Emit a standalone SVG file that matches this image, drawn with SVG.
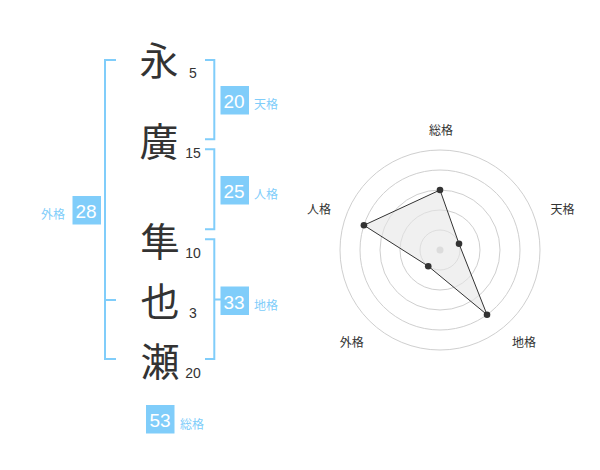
<svg xmlns="http://www.w3.org/2000/svg" width="600" height="470" viewBox="0 0 600 470">
<style>
.ch{font-family:"Noto Sans CJK JP","Noto Sans CJK SC",sans-serif;font-size:39px;fill:#333;text-anchor:middle}
.num{font-family:"Liberation Sans",Arial,sans-serif;font-size:14px;fill:#333;text-anchor:middle}
.box{fill:#80cdfa}
.bnum{font-family:"Liberation Sans",Arial,sans-serif;font-size:19px;fill:#fff;text-anchor:middle}
.lbl{font-family:"Noto Sans CJK JP","Noto Sans CJK SC",sans-serif;font-size:12px;fill:#80cdfa}
.br{fill:none;stroke:#80cdfa;stroke-width:2}
.grid{fill:none;stroke:#cfcfcf;stroke-width:1}
.axl{font-family:"Noto Sans CJK JP","Noto Sans CJK SC",sans-serif;font-size:12px;fill:#333;text-anchor:middle}
.pt{fill:#333}
</style>
<rect width="600" height="470" fill="#fff"/>
<g id="connectors">
<path class="br" d="M116,60 H105 V359 H116 M105,300 H116"/>
<path class="br" d="M205,60 H214.3 V139.3 H205"/>
<path class="br" d="M205,149.3 H214.3 V229.3 H205"/>
<path class="br" d="M205,239.3 H214.3 V359 H205 M214.3,299.5 H222"/>
</g>
<g id="char1"><text class="ch" x="159" y="75">永</text><text class="num" x="193" y="77.5">5</text></g>
<g id="char2"><text class="ch" x="159" y="155.5">廣</text><text class="num" x="193" y="158">15</text></g>
<g id="char3"><text class="ch" x="160" y="255.5">隼</text><text class="num" x="193" y="258">10</text></g>
<g id="char4"><text class="ch" x="160" y="315.5">也</text><text class="num" x="193" y="318">3</text></g>
<g id="char5"><text class="ch" x="160" y="375.5">瀬</text><text class="num" x="193" y="378">20</text></g>
<g id="tenkaku"><rect class="box" x="220.5" y="86" width="28.5" height="28.5"/><text class="bnum" x="234" y="108">20</text><text class="lbl" x="254" y="109">天格</text></g>
<g id="jinkaku"><rect class="box" x="220.5" y="176" width="28.5" height="28.5"/><text class="bnum" x="234" y="198">25</text><text class="lbl" x="254" y="199">人格</text></g>
<g id="chikaku"><rect class="box" x="220.5" y="286.5" width="28.5" height="28.5"/><text class="bnum" x="234" y="308.5">33</text><text class="lbl" x="254" y="309.5">地格</text></g>
<g id="gaikaku"><rect class="box" x="72.5" y="196" width="28.5" height="28.5"/><text class="bnum" x="86" y="218">28</text><text class="lbl" x="41" y="219">外格</text></g>
<g id="soukaku"><rect class="box" x="146" y="405" width="28.5" height="28.5"/><text class="bnum" x="160" y="427">53</text><text class="lbl" x="180" y="428.5">総格</text></g>
<g id="radar">
<circle class="grid" cx="440" cy="250" r="20"/>
<circle class="grid" cx="440" cy="250" r="40"/>
<circle class="grid" cx="440" cy="250" r="60"/>
<circle class="grid" cx="440" cy="250" r="80"/>
<circle class="grid" cx="440" cy="250" r="100"/>
<circle cx="440" cy="250" r="3.5" fill="#cccccc"/>
<polygon points="440,190 459.02,243.82 487.02,314.72 428.24,266.18 363.92,225.28" fill="#e6e6e6" fill-opacity="0.6" stroke="#333" stroke-width="1"/>
<circle class="pt" cx="440" cy="190" r="3.3"/>
<circle class="pt" cx="459.02" cy="243.82" r="3.3"/>
<circle class="pt" cx="487.02" cy="314.72" r="3.3"/>
<circle class="pt" cx="428.24" cy="266.18" r="3.3"/>
<circle class="pt" cx="363.92" cy="225.28" r="3.3"/>
<text class="axl" x="441" y="135">総格</text>
<text class="axl" x="562.5" y="214">天格</text>
<text class="axl" x="524" y="347">地格</text>
<text class="axl" x="351.7" y="347">外格</text>
<text class="axl" x="319" y="214">人格</text>
</g>
</svg>
